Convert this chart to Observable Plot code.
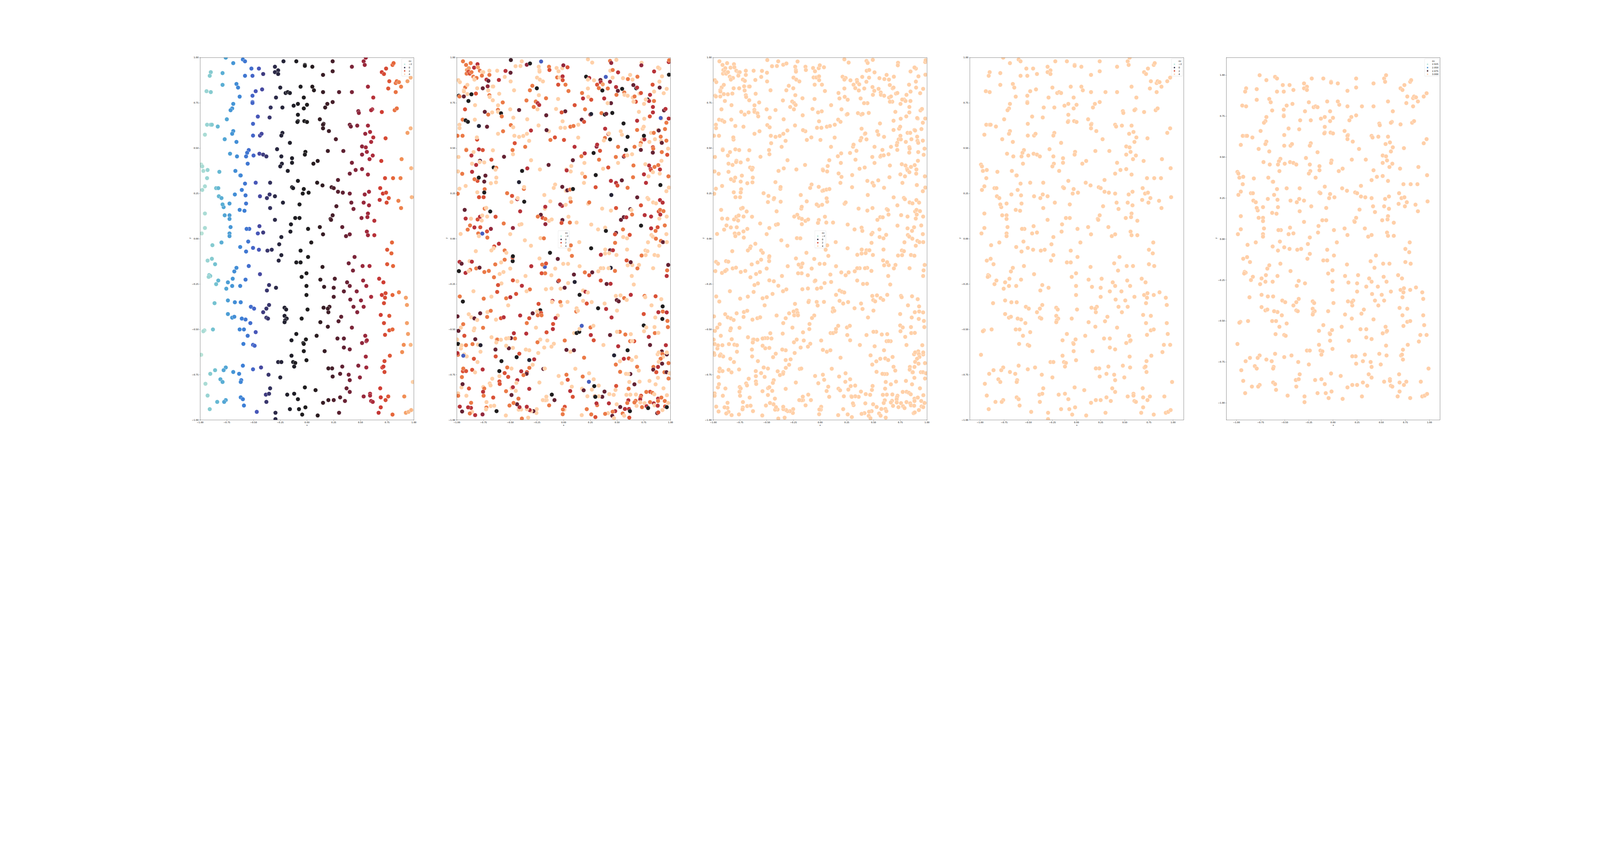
<!DOCTYPE html>
<html><head><meta charset="utf-8">
<script src="https://cdn.jsdelivr.net/npm/d3@7"></script>
<script src="https://cdn.jsdelivr.net/npm/@observablehq/plot@0.6"></script>
<style>
html,body{margin:0;padding:0;background:#fff;overflow:hidden;width:100%;height:100%;}
#wrap{position:relative;overflow:hidden;background:#fff;}
#fig{position:absolute;left:0;top:0;width:7200px;height:2160px;background:#fff;font-family:"DejaVu Sans",sans-serif;overflow:hidden;transform-origin:0 0;}
.panel{position:absolute;}
.legend{position:absolute;}
</style></head><body><div id="wrap"><div id="fig"></div></div>
<script>
// ---- tick labels / legend ----
const tickValues = [-1, -0.75, -0.5, -0.25, 0, 0.25, 0.5, 0.75, 1];
const legendTitle = "ov";
const legendLabels = ["−2", "0", "2", "4"];
const legendColors = ["#b7e4d9", "#2d2b47", "#d4452f", "#ffcfa8"];
const legend5Labels = ["2.925", "2.950", "2.975", "3.000"];
const legend5Values = [2.925, 2.95, 2.975, 3.0];
const legend5Colors = ["#b7e4d9", "#4a92d0", "#3f1f27", "#ffcfa8"];

// icefire-like palette stops for the hue variable "ov"
const ovStops = [-2, -1.85, -1.7, -1.55, -1.4, -1.1, -0.8, -0.5, -0.35, -0.2, 0.1, 0.4, 0.7, 1.0, 1.3, 1.6, 1.9, 2.2, 2.5, 2.8, 3.1, 3.4, 3.7, 3.85, 4.0];
const ovColors = ["#b8e3d8", "#a3d8d4", "#86cbd0", "#6cbdd2", "#5aaed4", "#4696d6", "#3d7fd6", "#4566c8", "#4a50b0", "#3f3c80", "#2c2a48", "#222130", "#1e1d22", "#1f1d1e", "#2a1c20", "#3e1e27", "#56202f", "#722438", "#8e273c", "#ab2c3c", "#cf3d33", "#e5663a", "#f18e55", "#f6aa74", "#ffd0a8"];

// constant hue values of the last three panels
const ovPanel3 = 4.0, ovPanel4 = 4.0, ovPanel5 = 3.0;

const P = 4.0, L = 3.8, O = 3.55, R = 3.25, C = 2.9, K = 2.55, M = 2.05, W = 1.6, D = 1.0, N = 0.35, B = -0.45;

// ---- dataset A (panels 1, 4, 5): [x, y, ov] ----
const pointsA = [
[-0.76,1.00,-1.3],[-0.60,0.99,-0.8],[-0.58,0.98,-0.7],[-0.69,0.97,-1.1],[-0.22,0.98,0.3],[-0.10,0.98,0.7],[-0.30,0.95,0.1],[-0.27,0.93,0.2],[-0.02,0.96,0.9],[-0.02,0.955,0.9],
[0.05,0.95,1.2],[0.24,0.98,1.7],[0.53,0.98,2.6],[0.55,1.00,2.7],[0.54,0.96,2.6],[0.42,0.95,2.3],[0.80,0.96,3.4],[0.81,0.97,3.4],[0.97,0.89,3.9],[-0.90,0.92,-1.7],
[-0.91,0.90,-1.7],[-0.79,0.915,-1.4],[-0.52,0.94,-0.6],[-0.51,0.90,-0.5],[-0.45,0.94,-0.4],[-0.58,0.90,-0.7],[-0.41,0.91,-0.2],[-0.30,0.92,0.1],[-0.27,0.91,0.2],[0.24,0.925,1.7],
[0.15,0.905,1.5],[0.70,0.92,3.1],[0.72,0.91,3.2],[0.74,0.94,3.2],[0.94,0.87,3.8],[0.77,0.87,3.3],[0.76,0.83,3.3],[0.83,0.86,3.5],[0.84,0.87,3.5],[0.86,0.865,3.6],
[0.88,0.84,3.6],[0.83,0.81,3.5],[0.57,0.84,2.7],[0.42,0.81,2.3],[0.30,0.81,1.9],[0.15,0.81,1.5],[0.065,0.82,1.2],[0.05,0.84,1.2],[-0.06,0.84,0.8],[-0.25,0.835,0.3],
[-0.20,0.805,0.4],[-0.18,0.81,0.5],[-0.16,0.805,0.5],[-0.42,0.825,-0.3],[-0.48,0.815,-0.4],[-0.66,0.855,-1.0],[-0.645,0.835,-0.9],[-0.79,0.85,-1.4],[-0.94,0.815,-1.8],[-0.90,0.81,-1.7],
[0.62,0.78,2.9],[-0.03,0.78,0.9],[-0.29,0.78,0.1],[-0.63,0.785,-0.9],[-0.51,0.79,-0.5],[-0.51,0.755,-0.5],[-0.51,0.75,-0.5],[-0.69,0.745,-1.1],[-0.70,0.72,-1.1],[-0.715,0.71,-1.1],
[-0.34,0.725,0.0],[-0.23,0.725,0.3],[-0.125,0.735,0.6],[-0.085,0.745,0.7],[0.00,0.74,1.0],[-0.03,0.72,0.9],[0.19,0.745,1.6],[0.17,0.725,1.5],[0.24,0.755,1.7],[0.48,0.705,2.4],
[0.485,0.695,2.5],[0.61,0.715,2.8],[0.60,0.71,2.8],[0.70,0.70,3.1],[0.82,0.71,3.5],[0.84,0.72,3.5],[-0.75,0.66,-1.3],[-0.46,0.675,-0.4],[-0.35,0.67,-0.1],[-0.085,0.685,0.7],
[-0.085,0.65,0.7],[-0.09,0.645,0.7],[-0.025,0.65,0.9],[0.00,0.645,1.0],[0.12,0.66,1.4],[0.155,0.635,1.5],[0.15,0.63,1.5],[0.15,0.61,1.5],[0.205,0.595,1.6],[0.27,0.55,1.8],
[0.40,0.63,2.2],[0.41,0.62,2.2],[0.47,0.625,2.4],[0.57,0.625,2.7],[0.545,0.58,2.6],[0.59,0.59,2.8],[0.62,0.56,2.9],[0.60,0.535,2.8],[0.97,0.61,3.9],[0.94,0.585,3.8],
[0.735,0.555,3.2],[-0.935,0.63,-1.8],[-0.90,0.63,-1.7],[-0.89,0.63,-1.7],[-0.835,0.62,-1.5],[-0.955,0.575,-1.9],[-0.77,0.55,-1.3],[-0.69,0.595,-1.1],[-0.70,0.58,-1.1],[-0.66,0.535,-1.0],
[-0.505,0.635,-0.5],[-0.505,0.57,-0.5],[-0.44,0.57,-0.3],[-0.425,0.58,-0.3],[-0.23,0.585,0.3],[-0.24,0.57,0.3],[-0.16,0.53,0.5],[-0.72,0.47,-1.2],[-0.655,0.455,-1.0],[-0.545,0.49,-0.6],
[-0.56,0.475,-0.7],[-0.57,0.455,-0.7],[-0.50,0.46,-0.5],[-0.555,0.415,-0.7],[-0.445,0.47,-0.3],[-0.41,0.465,-0.2],[-0.38,0.455,-0.1],[-0.28,0.495,0.2],[-0.24,0.455,0.3],[-0.235,0.415,0.3],
[-0.25,0.40,0.3],[-0.015,0.48,1.0],[-0.02,0.465,0.9],[0.06,0.415,1.2],[0.10,0.43,1.3],[0.195,0.485,1.6],[0.34,0.485,2.0],[0.515,0.51,2.5],[0.55,0.505,2.7],[0.56,0.48,2.7],
[0.515,0.465,2.5],[0.585,0.44,2.8],[0.615,0.46,2.8],[0.42,0.42,2.3],[0.695,0.43,3.1],[0.885,0.44,3.7],[0.975,0.39,3.9],[-0.99,0.41,-2.0],[-0.98,0.40,-1.9],[-0.97,0.375,-1.9],
[-0.93,0.38,-1.8],[-0.935,0.335,-1.8],[-0.955,0.29,-1.9],[-0.98,0.27,-1.9],[-0.82,0.37,-1.5],[-0.67,0.375,-1.0],[-0.625,0.35,-0.9],[-0.62,0.35,-0.9],[-0.58,0.305,-0.7],[-0.48,0.31,-0.4],
[-0.345,0.31,0.0],[-0.18,0.375,0.5],[-0.14,0.42,0.6],[-0.14,0.445,0.6],[-0.085,0.32,0.7],[0.40,0.36,2.2],[0.455,0.38,2.4],[0.515,0.385,2.5],[0.57,0.355,2.7],[0.73,0.335,3.2],
[0.805,0.335,3.4],[0.875,0.335,3.6],[0.29,0.325,1.9],[0.095,0.31,1.3],[0.145,0.295,1.4],[0.23,0.285,1.7],[0.25,0.28,1.8],[0.29,0.26,1.9],[0.335,0.255,2.0],[0.40,0.25,2.2],
[0.54,0.245,2.6],[0.58,0.26,2.7],[0.685,0.28,3.1],[0.71,0.25,3.1],[0.74,0.255,3.2],[0.765,0.225,3.3],[0.745,0.20,3.2],[0.68,0.215,3.0],[0.855,0.21,3.6],[0.98,0.23,3.9],
[0.88,0.17,3.6],[0.415,0.20,2.2],[0.435,0.165,2.3],[0.53,0.20,2.6],[0.58,0.185,2.7],[0.57,0.14,2.7],[0.565,0.12,2.7],[0.51,0.115,2.5],[0.63,0.10,2.9],[0.275,0.18,1.8],
[0.24,0.13,1.7],[0.22,0.11,1.7],[0.225,0.105,1.7],[0.12,0.065,1.4],[0.15,0.025,1.5],[0.33,0.065,2.0],[0.365,0.015,2.1],[0.40,0.025,2.2],[0.63,0.02,2.9],[0.56,0.04,2.7],
[0.57,0.02,2.7],[0.795,-0.02,3.4],[0.75,-0.06,3.3],[0.79,-0.08,3.4],[0.75,-0.14,3.3],[0.805,-0.15,3.4],[0.445,-0.10,2.3],[0.39,-0.135,2.2],[0.52,-0.15,2.6],[0.585,-0.15,2.8],
[0.43,-0.175,2.3],[0.04,-0.02,1.1],[0.01,0.055,1.0],[-0.03,0.275,0.9],[-0.04,0.25,0.9],[0.015,0.255,1.0],[-0.07,0.19,0.8],[-0.11,0.115,0.7],[-0.07,0.115,0.8],[-0.15,0.08,0.6],
[-0.155,0.04,0.5],[-0.14,0.285,0.6],[-0.13,0.28,0.6],[-0.225,0.20,0.3],[-0.30,0.235,0.1],[-0.35,0.245,-0.1],[-0.375,0.225,-0.1],[-0.44,0.235,-0.3],[-0.345,0.17,0.0],[-0.30,0.105,0.1],
[-0.24,0.01,0.3],[-0.26,-0.03,0.2],[-0.24,-0.09,0.3],[-0.265,-0.12,0.2],[-0.33,-0.06,0.0],[-0.37,-0.065,-0.1],[-0.45,-0.06,-0.4],[-0.505,-0.05,-0.5],[-0.445,0.07,-0.3],[-0.41,0.035,-0.2],
[-0.46,0.03,-0.4],[-0.54,0.055,-0.6],[-0.565,0.055,-0.7],[-0.55,-0.015,-0.7],[-0.57,-0.07,-0.7],[-0.625,-0.045,-0.9],[-0.545,-0.15,-0.6],[-0.44,-0.195,-0.3],[-0.575,-0.225,-0.7],[-0.625,-0.26,-0.9],
[-0.355,-0.255,-0.1],[-0.375,-0.285,-0.1],[-0.29,-0.27,0.1],[-0.05,-0.21,0.9],[-0.005,-0.19,1.0],[-0.005,-0.26,1.0],[-0.005,-0.31,1.0],[0.005,-0.39,1.0],[-0.10,-0.13,0.7],[-0.06,-0.13,0.8],
[-0.06,-0.065,0.8],[0.01,-0.10,1.0],[0.145,-0.155,1.4],[0.125,-0.225,1.4],[0.16,-0.265,1.5],[0.26,-0.22,1.8],[0.25,-0.27,1.8],[0.25,-0.32,1.8],[0.345,-0.29,2.0],[0.375,-0.24,2.1],
[0.40,-0.26,2.2],[0.405,-0.335,2.2],[0.465,-0.29,2.4],[0.435,-0.375,2.3],[0.47,-0.405,2.4],[0.505,-0.34,2.5],[0.53,-0.375,2.6],[0.525,-0.23,2.6],[0.555,-0.26,2.7],[0.60,-0.32,2.8],
[0.675,-0.22,3.0],[0.715,-0.24,3.1],[0.70,-0.31,3.1],[0.735,-0.30,3.2],[0.73,-0.325,3.2],[0.72,-0.355,3.2],[0.80,-0.31,3.4],[0.86,-0.295,3.6],[0.925,-0.325,3.8],[0.935,-0.365,3.8],
[0.69,-0.42,3.1],[0.77,-0.425,3.3],[0.72,-0.465,3.2],[0.935,-0.465,3.8],[0.73,-0.53,3.2],[0.77,-0.505,3.3],[0.80,-0.50,3.4],[0.945,-0.525,3.8],[0.97,-0.585,3.9],[0.905,-0.585,3.7],
[0.89,-0.625,3.7],[0.775,-0.645,3.3],[0.725,-0.675,3.2],[0.705,-0.71,3.1],[0.715,-0.705,3.1],[0.725,-0.735,3.2],[0.99,-0.79,4.0],[0.545,-0.535,2.6],[0.515,-0.575,2.5],[0.555,-0.565,2.7],
[0.56,-0.56,2.7],[0.55,-0.65,2.7],[0.555,-0.71,2.7],[0.48,-0.70,2.4],[0.495,-0.765,2.5],[0.39,-0.75,2.2],[0.40,-0.78,2.2],[0.37,-0.825,2.1],[0.40,-0.845,2.2],[0.355,-0.895,2.1],
[0.31,-0.875,1.9],[0.33,-0.705,2.0],[0.31,-0.745,1.9],[0.345,-0.55,2.0],[0.345,-0.60,2.0],[0.40,-0.61,2.2],[0.285,-0.55,1.9],[0.42,-0.49,2.3],[0.32,-0.43,2.0],[0.295,-0.455,1.9],
[0.235,-0.715,1.7],[0.20,-0.715,1.6],[0.24,-0.76,1.7],[0.195,-0.485,1.6],[0.20,-0.405,1.6],[0.21,-0.375,1.6],[0.195,-0.385,1.6],[0.155,-0.38,1.5],[0.125,-0.46,1.4],[0.09,-0.535,1.3],
[0.165,-0.62,1.5],[0.08,-0.835,1.2],[0.20,-0.89,1.6],[0.25,-0.89,1.8],[0.15,-0.905,1.5],[0.10,-0.975,1.3],[0.30,-0.96,1.9],[0.59,-0.855,2.8],[0.59,-0.865,2.8],[0.53,-0.87,2.6],
[0.60,-0.895,2.8],[0.615,-0.90,2.8],[0.685,-0.825,3.1],[0.69,-0.875,3.1],[0.76,-0.87,3.3],[0.735,-0.89,3.2],[0.69,-0.93,3.1],[0.67,-0.96,3.0],[0.80,-0.97,3.4],[0.91,-0.87,3.7],
[0.925,-0.96,3.8],[0.95,-0.955,3.9],[0.975,-0.945,3.9],[-0.015,-0.93,1.0],[-0.045,-0.97,0.9],[-0.075,-0.94,0.8],[-0.16,-0.94,0.5],[-0.295,-0.96,0.1],[-0.295,-0.995,0.1],[-0.47,-0.955,-0.4],
[-0.59,-0.92,-0.8],[-0.38,-0.90,-0.1],[-0.385,-0.86,-0.2],[-0.355,-0.855,-0.1],[-0.345,-0.825,0.0],[-0.36,-0.75,-0.1],[-0.25,-0.765,0.3],[-0.185,-0.86,0.5],[-0.12,-0.855,0.6],[-0.085,-0.885,0.7],
[-0.02,-0.82,0.9],[-0.145,-0.645,0.6],[-0.13,-0.68,0.6],[-0.11,-0.685,0.7],[-0.12,-0.705,0.6],[-0.27,-0.68,0.2],[-0.24,-0.68,0.3],[-0.03,-0.62,0.9],[-0.005,-0.67,1.0],[-0.035,-0.575,0.9],
[-0.03,-0.58,0.9],[-0.01,-0.555,1.0],[-0.10,-0.525,0.7],[-0.145,-0.56,0.6],[-0.05,-0.44,0.9],[-0.21,-0.38,0.4],[-0.195,-0.39,0.4],[-0.21,-0.425,0.4],[-0.19,-0.44,0.4],[-0.205,-0.45,0.4],
[-0.21,-0.46,0.4],[-0.355,-0.365,-0.1],[-0.38,-0.385,-0.1],[-0.41,-0.405,-0.2],[-0.38,-0.435,-0.1],[-0.365,-0.44,-0.1],[-0.48,-0.515,-0.4],[-0.525,-0.375,-0.6],[-0.495,-0.385,-0.5],[-0.53,-0.465,-0.6],
[-0.555,-0.535,-0.7],[-0.505,-0.585,-0.5],[-0.49,-0.59,-0.5],[-0.63,-0.50,-0.9],[-0.59,-0.50,-0.8],[-0.575,-0.445,-0.7],[-0.61,-0.44,-0.8],[-0.62,-0.35,-0.9],[-0.675,-0.35,-1.0],[-0.74,-0.34,-1.2],
[-0.74,-0.415,-1.2],[-0.70,-0.435,-1.1],[-0.68,-0.43,-1.0],[-0.595,-0.58,-0.8],[-0.60,-0.70,-0.8],[-0.505,-0.72,-0.5],[-0.43,-0.71,-0.3],[-0.635,-0.745,-0.9],[-0.615,-0.78,-0.8],[-0.62,-0.79,-0.9],
[-0.62,-0.875,-0.9],[-0.60,-0.885,-0.8],[-0.76,-0.71,-1.3],[-0.78,-0.725,-1.3],[-0.69,-0.735,-1.1],[-0.86,-0.725,-1.6],[-0.905,-0.745,-1.7],[-0.81,-0.775,-1.4],[-0.79,-0.79,-1.4],[-0.95,-0.80,-1.9],
[-0.93,-0.865,-1.8],[-0.84,-0.90,-1.5],[-0.76,-0.89,-1.3],[-0.775,-0.90,-1.3],[-0.91,-0.94,-1.7],[-0.99,-0.64,-2.0],[-0.88,-0.50,-1.6],[-0.96,-0.505,-1.9],[-0.97,-0.51,-1.9],[-0.865,-0.355,-1.6],
[-0.83,-0.23,-1.5],[-0.85,-0.25,-1.6],[-0.915,-0.20,-1.7],[-0.905,-0.205,-1.7],[-0.92,-0.21,-1.8],[-0.89,-0.11,-1.7],[-0.93,-0.12,-1.8],[-0.86,-0.14,-1.6],[-0.885,-0.035,-1.7],[-0.80,-0.02,-1.4],
[-0.985,0.03,-2.0],[-0.955,0.06,-1.9],[-0.955,0.14,-1.9],[-0.725,0.03,-1.2],[-0.725,0.015,-1.2],[-0.715,0.065,-1.1],[-0.725,0.13,-1.2],[-0.725,0.11,-1.2],[-0.77,0.13,-1.3],[-0.78,0.175,-1.3],
[-0.79,0.19,-1.4],[-0.725,0.195,-1.2],[-0.85,0.28,-1.6],[-0.83,0.28,-1.5],[-0.825,0.235,-1.5],[-0.80,0.225,-1.4],[-0.675,0.245,-1.0],[-0.61,0.27,-0.8],[-0.575,0.24,-0.7],[-0.57,0.195,-0.7],
[-0.585,0.155,-0.8],[-0.63,0.16,-0.9],[-0.755,-0.275,-1.3],[-0.74,-0.24,-1.2],[-0.70,-0.26,-1.1],[-0.695,-0.22,-1.1],[-0.68,-0.18,-1.0],[-0.66,-0.16,-1.0]
];

// ---- dataset B (panels 2, 3): [x, y, ov] ----
const pointsB = [
[-0.942,0.98,O],[-0.913,0.96,O],[-0.87,0.97,O],[-0.905,0.932,L],[-0.887,0.942,L],[-0.908,0.912,O],[-0.891,0.923,R],[-0.879,0.912,R],[-0.862,0.92,O],[-0.838,0.945,C],[-0.806,0.964,C],[-0.802,0.947,L],[-0.784,0.928,O],[-0.764,0.92,P],[-0.752,0.92,P],[-0.845,0.895,O],[-0.832,0.887,P],[-0.815,0.888,O],[-0.835,0.879,P],[-0.765,0.901,O],[-0.722,0.879,C],[-0.695,0.905,O],[-0.695,0.928,P],[-0.704,0.872,M],[-0.985,0.876,P],[-0.971,0.865,P],[-0.921,0.836,O],[-0.934,0.82,P],[-0.933,0.813,P],[-0.901,0.85,P],[-0.757,0.831,M],[-0.809,0.831,P],[-0.711,0.842,K],[-0.706,0.819,P],[-0.666,0.841,P],[-0.659,0.841,P],[-0.606,0.877,C],[-0.622,0.928,P],[-0.544,0.927,C],[-0.551,0.894,P],[-0.494,0.987,W],[-0.497,0.917,M],[-0.496,0.869,P],[-0.464,0.82,P],[-0.45,0.953,P],[-0.404,0.954,P],[-0.392,0.98,P],[-0.345,0.961,K],[-0.315,0.968,D],[-0.293,0.845,O],[-0.316,0.82,O],[-0.251,0.831,D],[-0.233,0.95,P],[-0.227,0.931,P],[-0.226,0.923,P],[-0.249,0.89,P],[-0.223,0.879,P],[-0.194,0.869,P],[-0.211,0.979,B],[-0.137,0.95,O],[-0.133,0.932,R],[-0.066,0.943,P],[-0.048,0.925,P],[-0.061,0.891,O],[-0.036,0.891,P],[-0.013,0.942,P],[-0.003,0.958,K],[0.036,0.947,R],[-0.01,0.897,C],[-0.009,0.876,R],[-0.051,0.851,R],[0.017,0.851,O],[0.045,0.816,O],[0.227,0.991,P],[0.267,0.973,P],[0.21,0.895,D],[0.239,0.888,C],[0.227,0.879,P],[0.227,0.83,P],[0.172,0.805,O],[0.284,0.875,P],[0.181,0.775,C],[0.258,0.768,R],[0.23,0.784,P],[0.313,0.851,R],[0.329,0.832,O],[0.344,0.877,M],[0.347,0.865,C],[0.366,0.853,L],[0.362,0.819,D],[0.394,0.894,B],[0.379,0.775,C],[0.413,0.83,O],[0.434,0.982,O],[0.445,0.971,K],[0.436,0.928,P],[0.459,0.932,O],[0.433,0.867,K],[0.458,0.89,P],[0.493,0.988,P],[0.509,0.919,C],[0.49,0.838,C],[0.507,0.817,M],[0.494,0.795,O],[0.443,0.749,M],[0.411,0.749,P],[0.547,0.828,D],[0.567,0.808,O],[0.555,0.887,P],[0.569,0.795,P],[0.601,0.882,O],[0.622,0.905,P],[0.599,0.79,P],[0.644,0.879,P],[0.652,0.849,M],[0.679,0.831,D],[0.687,0.835,C],[0.646,0.78,P],[0.663,0.786,O],[0.675,0.757,R],[0.653,0.757,P],[0.69,0.895,O],[0.729,0.972,P],[0.727,0.958,K],[0.71,0.802,P],[0.723,0.805,R],[0.786,0.769,D],[0.799,0.761,C],[0.768,0.769,P],[0.752,0.745,P],[0.808,0.795,C],[0.846,0.813,P],[0.832,0.851,R],[0.845,0.761,O],[0.846,0.924,C],[0.896,0.94,P],[0.92,0.897,P],[0.896,0.868,P],[0.898,0.835,M],[0.936,0.804,P],[0.964,0.828,P],[0.983,0.976,C],[0.987,0.986,O],[0.985,0.906,D],[0.883,0.946,P],[0.835,0.728,C],[0.835,0.698,C],[0.806,0.676,R],[0.754,0.663,P],[0.704,0.701,P],[0.687,0.652,C],[0.939,0.709,M],[0.953,0.717,C],[0.983,0.664,C],[0.913,0.664,P],[0.961,0.641,O],[0.948,0.606,O],[0.908,0.667,B],[0.883,0.601,P],[0.889,0.598,M],[0.908,0.564,O],[0.911,0.541,P],[0.961,0.542,O],[0.918,0.53,M],[0.977,0.498,P],[0.969,0.464,R],[0.918,0.479,O],[0.915,0.431,P],[0.885,0.407,O],[0.901,0.383,C],[0.85,0.397,O],[0.813,0.386,C],[0.818,0.379,R],[0.799,0.405,C],[0.764,0.412,P],[0.835,0.368,P],[0.794,0.345,P],[0.751,0.356,C],[0.77,0.309,C],[0.905,0.297,D],[0.98,0.345,O],[0.899,0.36,P],[0.984,0.283,P],[0.961,0.263,P],[0.784,0.226,P],[0.793,0.219,P],[0.688,0.229,M],[0.837,0.201,P],[0.864,0.196,P],[0.901,0.214,C],[0.926,0.2,C],[0.723,0.185,R],[0.889,0.151,R],[0.902,0.16,O],[0.934,0.153,O],[0.904,0.134,C],[0.964,0.123,P],[0.895,0.112,P],[0.758,0.131,C],[0.818,0.123,C],[0.946,0.074,O],[0.879,0.064,R],[0.818,0.058,C],[0.86,0.044,O],[0.724,0.073,D],[0.961,0.026,P],[0.821,0.021,P],[0.834,0.012,P],[0.863,0.001,O],[0.91,-0.011,O],[0.929,-0.018,M],[0.965,-0.018,P],[0.895,-0.038,P],[0.789,-0.019,P],[0.765,-0.064,P],[0.784,-0.068,P],[0.729,-0.092,O],[0.767,-0.09,P],[0.85,-0.089,P],[0.882,-0.093,P],[0.705,-0.144,P],[0.69,-0.163,O],[0.837,-0.162,P],[0.978,-0.144,M],[0.968,-0.174,O],[0.964,-0.205,C],[0.637,-0.205,P],[0.656,-0.252,P],[0.642,-0.145,P],[0.627,-0.129,M],[0.589,-0.119,R],[0.599,-0.146,P],[0.593,-0.059,P],[0.557,0.01,P],[0.593,0.003,P],[0.618,0.022,R],[0.555,0.052,O],[0.536,0.105,M],[0.563,0.12,M],[0.586,0.119,C],[0.624,0.164,M],[0.634,0.159,P],[0.64,0.134,O],[0.49,0.17,R],[0.442,0.156,P],[0.446,0.242,N],[0.49,0.033,M],[0.48,0.025,R],[0.481,-0.022,O],[0.434,-0.063,M],[0.461,-0.063,C],[0.44,-0.16,N],[0.42,-0.162,P],[0.48,-0.177,O],[0.494,-0.089,P],[0.388,-0.081,P],[0.426,-0.079,P],[0.348,-0.088,C],[0.389,-0.059,P],[0.37,-0.162,P],[0.347,-0.162,P],[0.324,-0.179,P],[0.347,-0.23,R],[0.402,-0.249,M],[0.439,-0.248,C],[0.388,0.062,P],[0.395,0.044,D],[0.322,0.052,P],[0.258,0.079,P],[0.257,-0.052,D],[0.198,-0.185,O],[0.239,-0.201,R],[0.267,-0.185,M],[0.149,-0.151,P],[0.146,-0.018,P],[0.067,-0.036,O],[0.052,-0.06,P],[0.077,-0.094,O],[0.041,-0.138,P],[-0.004,-0.138,P],[0.058,0.09,O],[-0.012,0.104,M],[-0.02,0.088,R],[0.121,0.09,P],[0.045,0.122,P],[-0.015,0.182,C],[-0.032,0.19,K],[0.019,0.188,P],[0.066,0.205,O],[0.061,0.224,P],[0.022,0.265,P],[0.034,0.268,M],[0.06,0.272,O],[0.087,0.275,D],[-0.013,0.287,M],[-0.08,0.3,P],[-0.093,0.281,P],[0.025,0.383,P],[0.028,0.378,C],[0.066,0.372,P],[0.071,0.402,P],[0.086,0.434,M],[0.19,0.309,P],[0.2,0.342,O],[0.194,0.419,P],[0.197,0.472,C],[0.166,0.456,O],[0.102,0.508,C],[0.136,0.559,P],[0.169,0.658,M],[0.191,0.646,R],[0.2,0.715,O],[0.103,0.738,R],[0.015,0.704,M],[-0.019,0.698,R],[-0.01,0.649,P],[-0.029,0.613,P],[0.012,0.613,P],[0.063,0.619,O],[0.092,0.623,O],[0.137,0.63,P],[0.003,0.546,R],[-0.082,0.56,R],[-0.124,0.546,O],[-0.138,0.594,P],[-0.16,0.6,M],[-0.163,0.682,M],[-0.165,0.776,O],[-0.071,0.717,P],[-0.052,0.772,P],[-0.141,0.408,M],[-0.171,0.081,K],[-0.197,0.116,R],[-0.171,0.11,O],[-0.137,0.099,P],[-0.112,0.107,P],[-0.176,0.167,P],[-0.172,0.177,C],[-0.181,0.242,P],[-0.125,0.207,P],[-0.214,0.133,M],[-0.242,0.123,O],[-0.217,0.004,P],[-0.185,0.003,O],[-0.128,-0.077,D],[-0.055,-0.111,M],[-0.079,-0.164,P],[-0.115,-0.201,P],[-0.173,-0.19,O],[-0.206,-0.19,R],[-0.181,-0.156,P],[-0.176,-0.155,B],[-0.201,-0.142,O],[-0.165,-0.136,R],[-0.226,-0.108,P],[-0.051,-0.234,M],[-0.044,-0.23,R],[-0.029,-0.275,P],[0.009,-0.27,M],[0.042,-0.244,P],[0.103,-0.238,N],[0.096,-0.197,M],[-0.114,-0.274,P],[-0.166,-0.278,P],[-0.105,-0.342,C],[-0.109,-0.349,P],[-0.032,-0.348,O],[-0.023,-0.368,P],[0.036,-0.348,P],[-0.235,-0.359,R],[-0.219,-0.394,D],[-0.211,-0.409,R],[-0.248,-0.401,P],[-0.242,-0.422,O],[-0.207,-0.422,O],[-0.055,-0.423,P],[-0.076,-0.437,C],[-0.099,-0.47,R],[-0.101,-0.498,C],[-0.16,-0.516,R],[-0.259,-0.49,P],[-0.322,-0.438,R],[-0.29,-0.411,M],[-0.345,-0.465,O],[-0.407,-0.423,C],[-0.35,-0.523,C],[-0.219,-0.556,P],[-0.245,-0.571,O],[-0.153,-0.561,P],[-0.092,-0.579,P],[-0.114,-0.595,P],[-0.182,-0.6,P],[-0.238,-0.63,P],[-0.322,-0.615,P],[-0.354,-0.611,P],[-0.276,-0.665,C],[-0.322,-0.669,N],[-0.29,-0.695,P],[-0.19,-0.718,M],[-0.176,-0.716,P],[-0.321,-0.712,O],[-0.344,-0.736,R],[-0.347,-0.745,M],[-0.376,-0.752,O],[-0.397,-0.731,C],[-0.44,-0.653,D],[-0.415,-0.634,R],[-0.475,-0.602,P],[-0.513,-0.604,M],[-0.493,-0.548,M],[-0.517,-0.548,P],[-0.455,-0.55,O],[-0.466,-0.521,C],[-0.538,-0.55,P],[-0.538,-0.59,P],[-0.488,-0.716,P],[-0.528,-0.71,O],[-0.552,-0.741,R],[-0.519,-0.762,R],[-0.601,-0.758,P],[-0.601,-0.787,R],[-0.598,-0.801,R],[-0.659,-0.876,R],[-0.682,-0.923,P],[-0.65,-0.921,P],[-0.628,-0.951,D],[-0.668,-0.772,P],[-0.692,-0.798,P],[-0.684,-0.809,P],[-0.752,-0.818,P],[-0.743,-0.826,O],[-0.754,-0.844,C],[-0.749,-0.866,O],[-0.722,-0.901,P],[-0.723,-0.931,O],[-0.726,-0.941,P],[-0.759,-0.969,K],[-0.828,-0.973,C],[-0.857,-0.955,P],[-0.878,-0.964,O],[-0.867,-0.933,C],[-0.894,-0.93,C],[-0.866,-0.905,O],[-0.886,-0.826,R],[-0.95,-0.953,M],[-0.972,-0.926,C],[-0.91,-0.866,P],[-0.956,-0.82,P],[-0.987,-0.853,P],[-0.987,-0.866,O],[-0.946,-0.802,M],[-0.952,-0.763,O],[-0.943,-0.731,R],[-0.939,-0.716,O],[-0.913,-0.73,R],[-0.856,-0.723,R],[-0.829,-0.737,P],[-0.806,-0.68,P],[-0.84,-0.662,R],[-0.758,-0.721,C],[-0.907,-0.649,P],[-0.931,-0.638,P],[-0.939,-0.645,B],[-0.988,-0.64,O],[-0.993,-0.631,C],[-0.961,-0.605,P],[-0.984,-0.582,P],[-0.988,-0.58,D],[-0.955,-0.588,P],[-0.914,-0.587,O],[-0.853,-0.581,O],[-0.802,-0.584,P],[-0.778,-0.587,N],[-0.827,-0.554,M],[-0.841,-0.505,P],[-0.835,-0.494,P],[-0.929,-0.535,R],[-0.984,-0.508,M],[-0.962,-0.49,P],[-0.996,-0.556,P],[-0.94,-0.471,O],[-0.993,-0.428,M],[-0.888,-0.416,P],[-0.864,-0.433,P],[-0.835,-0.439,M],[-0.809,-0.448,P],[-0.781,-0.411,M],[-0.754,-0.491,O],[-0.716,-0.431,O],[-0.713,-0.404,P],[-0.682,-0.397,O],[-0.633,-0.446,P],[-0.587,-0.438,R],[-0.561,-0.433,C],[-0.675,-0.543,P],[-0.628,-0.556,P],[-0.621,-0.556,O],[-0.587,-0.557,P],[-0.63,-0.572,P],[-0.638,-0.611,M],[-0.636,-0.649,R],[-0.778,-0.623,P],[-0.582,-0.675,D],[-0.602,-0.73,D],
[-0.988,0.372,P],[-0.975,0.277,P],[-0.991,0.249,O],[-0.984,0.452,P],[-0.949,0.359,O],[-0.993,0.569,O],[-0.946,0.569,O],[-0.975,0.63,P],[-0.974,0.611,P],[-0.945,0.658,O],[-0.917,0.654,D],[-0.896,0.646,D],[-0.934,0.786,M],[-0.981,0.79,D],[-0.975,0.786,O],[-0.901,0.799,P],[-0.863,0.798,D],[-0.821,0.802,R],[-0.891,0.761,D],[-0.923,0.715,R],[-0.829,0.738,P],[-0.831,0.658,P],[-0.793,0.623,N],[-0.738,0.701,M],[-0.717,0.619,M],[-0.706,0.686,O],[-0.669,0.698,P],[-0.663,0.765,P],[-0.695,0.793,O],[-0.692,0.783,P],[-0.615,0.712,O],[-0.614,0.701,P],[-0.586,0.693,D],[-0.579,0.676,O],[-0.614,0.737,P],[-0.57,0.753,O],[-0.603,0.801,P],[-0.567,0.594,O],[-0.614,0.58,P],[-0.662,0.489,P],[-0.558,0.453,M],[-0.676,0.437,R],[-0.655,0.394,D],[-0.631,0.392,O],[-0.638,0.382,P],[-0.63,0.338,P],[-0.633,0.312,P],[-0.681,0.307,P],[-0.732,0.349,M],[-0.743,0.316,M],[-0.739,0.274,O],[-0.743,0.256,D],[-0.749,0.23,R],[-0.792,0.23,R],[-0.808,0.257,P],[-0.806,0.32,R],[-0.819,0.408,C],[-0.783,0.431,M],[-0.786,0.424,P],[-0.743,0.422,P],[-0.793,0.494,C],[-0.757,0.49,R],[-0.843,0.479,P],[-0.863,0.46,C],[-0.857,0.415,P],[-0.857,0.37,C],[-0.834,0.329,O],[-0.794,0.338,D],[-0.81,0.548,R],[-0.812,0.56,P],[-0.911,0.494,P],[-0.911,0.49,O],[-0.917,0.292,P],[-0.926,0.16,M],[-0.917,0.112,C],[-0.867,0.111,P],[-0.876,0.074,O],[-0.898,0.051,O],[-0.835,0.063,C],[-0.964,0.027,P],[-0.805,0.107,R],[-0.78,0.064,R],[-0.767,0.101,P],[-0.783,0.122,C],[-0.762,0.129,P],[-0.799,0.03,O],[-0.761,0.029,B],[-0.793,0.015,P],[-0.739,0.167,O],[-0.724,0.171,P],[-0.687,0.151,D],[-0.716,0.123,P],[-0.637,0.122,R],[-0.681,0.055,K],[-0.717,0.041,R],[-0.714,0.007,O],[-0.65,-0.042,R],[-0.656,-0.052,P],[-0.606,-0.027,C],[-0.561,0.085,O],[-0.475,0.06,K],[-0.5,0.026,P],[-0.552,-0.064,O],[-0.536,-0.077,P],[-0.552,-0.115,O],[-0.585,-0.13,P],[-0.64,-0.141,O],[-0.676,-0.064,P],[-0.822,-0.068,P],[-0.88,-0.123,P],[-0.859,-0.126,C],[-0.974,-0.127,C],[-0.955,-0.137,M],[-0.98,-0.178,D],[-0.918,-0.188,C],[-0.875,-0.171,O],[-0.889,-0.178,P],[-0.818,-0.163,O],[-0.787,-0.159,M],[-0.742,-0.183,O],[-0.7,-0.177,O],[-0.652,-0.212,O],[-0.599,-0.194,P],[-0.563,-0.183,P],[-0.582,-0.246,P],[-0.614,-0.255,R],[-0.622,-0.293,R],[-0.676,-0.319,P],[-0.748,-0.33,O],[-0.844,-0.289,P],[-0.972,-0.318,O],[-0.943,-0.346,D],[-0.538,-0.328,O],[-0.519,-0.367,P],[-0.499,-0.322,C],[-0.445,-0.304,R],[-0.391,-0.259,C],[-0.433,-0.234,P],[-0.475,-0.229,R],[-0.5,-0.164,P],[-0.477,-0.123,D],[-0.478,-0.103,R],[-0.475,-0.096,D],[-0.357,-0.205,P],[-0.316,-0.279,O],[-0.347,-0.289,P],[-0.303,-0.151,C],[-0.306,-0.038,P],[-0.363,-0.008,P],[-0.413,0.078,P],[-0.395,0.081,P],[-0.407,0.152,C],[-0.488,0.203,P],[-0.483,0.237,R],[-0.529,0.252,O],[-0.434,0.219,C],[-0.43,0.225,P],[-0.372,0.276,O],[-0.37,0.286,P],[-0.369,0.205,D],[-0.418,0.313,N],[-0.389,0.375,D],[-0.34,0.389,C],[-0.458,0.528,R],[-0.478,0.49,O],[-0.474,0.467,P],[-0.417,0.563,P],[-0.461,0.569,P],[-0.378,0.568,P],[-0.344,0.58,P],[-0.323,0.541,P],[-0.36,0.508,O],[-0.306,0.598,C],[-0.305,0.434,P],[-0.494,0.628,O],[-0.472,0.616,P],[-0.471,0.669,P],[-0.5,0.715,P],[-0.417,0.711,M],[-0.341,0.66,P],[-0.348,0.764,O],[-0.28,0.728,O],[-0.261,0.758,O],[-0.243,0.749,C],[-0.229,0.739,C],[-0.245,0.715,P],[-0.235,0.626,P],[-0.232,0.793,P],[-0.222,0.383,P],
[0.249,0.686,C],[0.257,0.689,N],[0.354,0.694,O],[0.385,0.686,D],[0.398,0.69,M],[0.455,0.695,D],[0.388,0.608,C],[0.418,0.579,C],[0.423,0.582,P],[0.434,0.549,D],[0.386,0.557,O],[0.376,0.543,P],[0.308,0.509,K],[0.313,0.52,C],[0.34,0.486,R],[0.28,0.474,D],[0.331,0.437,O],[0.509,0.508,O],[0.488,0.452,O],[0.509,0.419,P],[0.417,0.394,R],[0.369,0.387,P],[0.3,0.352,D],[0.299,0.285,R],[0.442,0.32,C],[0.49,0.309,C],[0.503,0.294,R],[0.544,0.323,M],[0.598,0.282,O],[0.653,0.405,O],[0.649,0.34,O],[0.567,0.456,P],[0.563,0.454,M],[0.57,0.459,R],[0.595,0.461,P],[0.64,0.467,P],[0.583,0.491,D],[0.545,0.575,P],[0.534,0.594,P],[0.56,0.637,D],[0.598,0.563,D],[0.663,0.508,O],[0.722,0.53,O],[0.735,0.549,P],[0.722,0.491,M],[0.717,0.517,P],[0.755,0.549,C],[0.751,0.569,D],[0.739,0.608,P],[0.749,0.619,P],[0.687,0.601,O],[0.802,0.535,P],[0.818,0.585,P],[0.843,0.585,O],[0.854,0.55,P],[0.835,0.506,R],[0.838,0.498,O],[0.834,0.476,M],
[0.229,0.194,P],[0.239,0.201,O],[0.36,0.167,P],[0.173,0.361,P],
[0.149,-0.309,D],[0.182,-0.285,P],[0.204,-0.292,C],[0.226,-0.296,P],[0.182,-0.342,P],[0.216,-0.357,R],[0.262,-0.349,P],[0.383,-0.357,P],[0.397,-0.387,C],[0.322,-0.383,D],[0.118,-0.401,O],[0.121,-0.383,P],[0.133,-0.397,P],[0.497,-0.338,M],[0.515,-0.345,M],[0.488,-0.315,P],[0.532,-0.312,P],[0.566,-0.327,O],[0.59,-0.337,P],[0.628,-0.309,C],[0.499,-0.396,P],[0.448,-0.434,C],[0.757,-0.315,O],[0.86,-0.317,R],[0.763,-0.322,P],[0.822,-0.367,P],[0.913,-0.333,P],[0.926,-0.373,D],[0.927,-0.401,O],[0.886,-0.405,C],[0.964,-0.406,C],[0.923,-0.442,D],[0.857,-0.434,P],[0.749,-0.415,R],[0.971,-0.453,O],[0.975,-0.487,O],[0.85,-0.487,P],[0.749,-0.478,D],[0.773,-0.489,P],[0.752,-0.51,P],[0.796,-0.541,C],[0.853,-0.52,O],[0.886,-0.519,P],[0.808,-0.586,M],[0.956,-0.587,C],[0.918,-0.621,M],[0.879,-0.637,P],[0.889,-0.627,P],[0.924,-0.636,O],[0.965,-0.638,M],[0.965,-0.627,P],[0.929,-0.652,P],[0.907,-0.662,O],[0.889,-0.679,P],[0.981,-0.686,O],[0.921,-0.689,M],[0.883,-0.707,C],[0.84,-0.707,O],[0.838,-0.722,M],[0.863,-0.737,P],[0.867,-0.736,R],[0.943,-0.736,O],[0.962,-0.736,M],[0.991,-0.742,P],[0.981,-0.771,O],[0.882,-0.767,P],[0.86,-0.803,P],[0.934,-0.825,P],[0.809,-0.844,R],[0.831,-0.85,O],[0.848,-0.858,P],[0.773,-0.845,O],[0.724,-0.866,R],[0.719,-0.875,O],[0.676,-0.859,P],[0.716,-0.886,C],[0.673,-0.894,O],[0.682,-0.922,P],[0.662,-0.903,O],[0.717,-0.903,P],[0.757,-0.907,P],[0.733,-0.929,O],[0.776,-0.924,C],[0.79,-0.934,D],[0.808,-0.901,O],[0.843,-0.908,C],[0.85,-0.919,P],[0.883,-0.882,C],[0.883,-0.895,O],[0.88,-0.921,C],[0.875,-0.962,M],[0.885,-0.958,R],[0.924,-0.945,P],[0.946,-0.895,O],[0.949,-0.925,R],[0.965,-0.929,D],[0.966,-0.863,P],[0.977,-0.906,P],[0.914,-0.876,O],[0.803,-0.784,P],[0.71,-0.788,P],[0.662,-0.803,M],[0.624,-0.746,M],[0.603,-0.746,P],[0.583,-0.745,P],[0.614,-0.79,P],[0.608,-0.827,O],[0.624,-0.86,P],[0.587,-0.861,P],[0.605,-0.891,C],[0.595,-0.906,O],[0.611,-0.939,C],[0.62,-0.951,D],[0.614,-0.987,R],[0.573,-0.939,C],[0.552,-0.964,O],[0.566,-0.976,P],[0.529,-0.928,M],[0.496,-0.913,P],[0.482,-0.951,C],[0.458,-0.954,O],[0.415,-0.962,P],[0.388,-0.966,O],[0.455,-0.977,M],[0.423,-0.908,C],[0.471,-0.99,P],[0.427,-0.857,P],[0.468,-0.861,P],[0.485,-0.834,P],[0.491,-0.812,R],[0.382,-0.843,M],[0.361,-0.872,M],[0.329,-0.869,P],[0.292,-0.869,O],[0.296,-0.872,D],[0.286,-0.813,D],[0.281,-0.775,P],[0.328,-0.81,P],[0.264,-0.832,P],[0.238,-0.742,P],[0.222,-0.869,P],[0.216,-0.94,O],[0.258,-0.969,O],[0.297,-0.984,R],[0.313,-0.918,O],[0.307,-0.908,C],[0.169,-0.973,P],[0.172,-0.827,P],[0.187,-0.836,M],[0.178,-0.76,O],[0.191,-0.656,O],[0.109,-0.717,P],[0.085,-0.872,R],[0.076,-0.816,P],[0.061,-0.84,C],[0.038,-0.778,R],[0.026,-0.75,O],[-0.017,-0.797,P],[-0.047,-0.757,P],[0.01,-0.927,R],[0.006,-0.943,P],[-0.007,-0.942,O],[-0.009,-0.968,O],[-0.086,-0.89,M],[-0.111,-0.86,D],[-0.136,-0.919,O],[-0.16,-0.89,P],[-0.173,-0.891,P],[-0.195,-0.89,P],[-0.162,-0.871,P],[-0.252,-0.94,P],[-0.255,-0.961,P],[-0.283,-0.951,M],[-0.305,-0.951,P],[-0.318,-0.945,C],[-0.344,-0.94,P],[-0.345,-0.927,C],[-0.332,-0.987,P],[-0.391,-0.992,O],[-0.398,-0.942,P],[-0.421,-0.943,P],[-0.413,-0.929,C],[-0.436,-0.913,M],[-0.469,-0.906,O],[-0.507,-0.92,O],[-0.541,-0.975,P],[-0.423,-0.882,O],[-0.488,-0.862,M],[-0.448,-0.839,P],[-0.487,-0.824,P],[-0.475,-0.819,C],[-0.539,-0.841,O],[-0.434,-0.78,C],[-0.442,-0.795,P],[-0.322,-0.828,C],[-0.227,-0.793,P],
[0.01,-0.561,O],[0.026,-0.613,M],[0.063,-0.623,P],[0.096,-0.615,M],[0.098,-0.52,P],[0.121,-0.52,D],[0.146,-0.513,D],[0.149,-0.497,P],[0.169,-0.48,B],[0.251,-0.489,O],[0.278,-0.48,P],[0.254,-0.531,C],[0.281,-0.56,R],[0.372,-0.586,P],[0.434,-0.531,M],[0.472,-0.643,N],[0.488,-0.694,O],[0.526,-0.676,P],[0.528,-0.734,O],[0.51,-0.593,C],[0.525,-0.513,O],[0.499,-0.513,P],[0.577,-0.528,O],[0.598,-0.615,D],[0.563,-0.662,C],[0.609,-0.66,R],[0.637,-0.669,P],[0.622,-0.565,O],[0.66,-0.565,R],[0.64,-0.564,P],[0.687,-0.706,O],[0.678,-0.652,P],[0.628,-0.526,P],[0.703,-0.727,P],[0.236,-0.789,B]
];

// ---- layout (in 7200x2160 figure units; the figure is scaled to the viewport) ----
const wrap = document.getElementById("wrap");
const fig = document.getElementById("fig");
function fitFigure() {
  const s = Math.min(window.innerWidth / 7200, window.innerHeight / 2160) || 1;
  fig.style.transform = `scale(${s})`;
  wrap.style.width = (7200 * s) + "px";
  wrap.style.height = (2160 * s) + "px";
}
fitFigure();
window.addEventListener("resize", fitFigure);

const AX_TOP = 259, AX_H = 1630, AX_W = 962;
const axLefts = [900, 2054.5, 3209, 4363.5, 5518];
const MG = {top: 12, right: 12, bottom: 50, left: 64};
const FONT = '"DejaVu Sans", "Liberation Sans", sans-serif';
const fmt = v => { const s = Math.abs(v) < 1e-9 ? "0.00" : v.toFixed(2); return s.replace("-", "\u2212"); };

const mainColor = {type: "linear", domain: ovStops, range: ovColors, clamp: true};
const color5 = {type: "linear", domain: legend5Values, range: legend5Colors, clamp: true};

const panels = [
  {data: pointsA, fill: d => d[2], xd: [-1, 1], yd: [-1, 1], color: mainColor,
   legend: {x: 1807, y: 264, w: 50, labels: legendLabels, colors: legendColors}},
  {data: pointsB, fill: d => d[2], xd: [-1, 1], yd: [-1, 1], color: mainColor,
   legend: {x: 2511, y: 1037, w: 50, labels: legendLabels, colors: legendColors}},
  {data: pointsB, fill: d => ovPanel3, xd: [-1, 1], yd: [-1, 1], color: mainColor,
   legend: {x: 3666, y: 1037, w: 50, labels: legendLabels, colors: legendColors}},
  {data: pointsA, fill: d => ovPanel4, xd: [-1.105, 1.11], yd: [-1, 1], color: mainColor,
   legend: {x: 5271, y: 264, w: 50, labels: legendLabels, colors: legendColors}},
  {data: pointsA, fill: d => ovPanel5, xd: [-1.105, 1.11], yd: [-1.104, 1.107], color: color5,
   legend: {x: 6410, y: 264, w: 65, labels: legend5Labels, colors: legend5Colors}}
];

panels.forEach((p, i) => {
  const chart = Plot.plot({
    width: AX_W + MG.left + MG.right,
    height: AX_H + MG.top + MG.bottom,
    marginTop: MG.top, marginRight: MG.right, marginBottom: MG.bottom, marginLeft: MG.left,
    style: {fontFamily: FONT, fontSize: "10px", color: "black", background: "transparent", overflow: "visible"},
    x: {domain: p.xd},
    y: {domain: p.yd},
    color: p.color,
    marks: [
      Plot.dot(p.data, {x: d => d[0], y: d => d[1], fill: p.fill, r: 9.6, stroke: "white", strokeWidth: 1, clip: true}),
      Plot.frame({stroke: "#000", strokeWidth: 0.8}),
      Plot.axisX({ticks: tickValues, tickFormat: fmt, tickSize: 3.5, tickPadding: 3.5, strokeWidth: 0.8, label: null, fontSize: 10}),
      Plot.axisY({ticks: tickValues, tickFormat: fmt, tickSize: 3.5, tickPadding: 3.5, strokeWidth: 0.8, label: null, fontSize: 10}),
      Plot.text(["x"], {frameAnchor: "bottom", dy: 27, fontSize: 10, fill: "black"}),
      Plot.text(["y"], {frameAnchor: "left", dx: -46, rotate: -90, fontSize: 10, fill: "black"})
    ]
  });
  chart.classList.add("panel");
  chart.style.left = (axLefts[i] - MG.left) + "px";
  chart.style.top = (AX_TOP - MG.top) + "px";
  fig.appendChild(chart);

  // legend box (seaborn-style with "ov" as the first entry)
  const L_ = p.legend, h = 78, mx = 13.5, tx = L_.w === 50 ? 31.8 : 33.5;
  let s = `<svg width="${L_.w + 2}" height="${h + 2}" xmlns="http://www.w3.org/2000/svg" style="font-family:${FONT.replace(/"/g, "'")};font-size:10px">`;
  s += `<rect x="0.5" y="0.5" width="${L_.w}" height="${h}" rx="2" ry="2" fill="white" fill-opacity="0.8" stroke="#cccccc" stroke-width="1"/>`;
  s += `<text x="${tx + 0.5}" y="${9.8 + 0.5}" dominant-baseline="central" fill="black">${legendTitle}</text>`;
  L_.labels.forEach((lab, j) => {
    const cy = 24.6 + 15 * j + 0.5;
    s += `<circle cx="${mx + 0.5}" cy="${cy}" r="3.4" fill="${L_.colors[j]}" stroke="white" stroke-width="0.4"/>`;
    s += `<text x="${tx + 0.5}" y="${cy}" dominant-baseline="central" fill="black">${lab}</text>`;
  });
  s += `</svg>`;
  const div = document.createElement("div");
  div.className = "legend";
  div.style.left = (L_.x - 0.5) + "px";
  div.style.top = (L_.y - 0.5) + "px";
  div.innerHTML = s;
  fig.appendChild(div);
});
</script>
</body></html>
